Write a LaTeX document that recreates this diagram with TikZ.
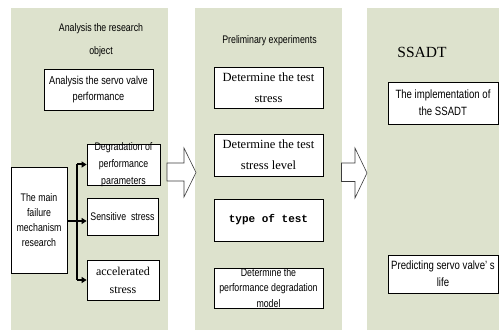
\documentclass[tikz,border=0pt]{standalone}
\usepackage{fontspec}
\setmainfont{Liberation Serif}
\setmonofont{Liberation Mono}
\newfontfamily\narrowsans[FakeStretch=0.8]{Liberation Sans}
\usetikzlibrary{arrows.meta}
\definecolor{panelbg}{RGB}{221,226,205}
\definecolor{arrowline}{RGB}{60,60,60}

\begin{document}
\begin{tikzpicture}[x=1pt,y=-1pt,
    box/.style={draw=black,line width=0.8pt,fill=white,inner sep=0pt,align=center},
    sanstxt/.style={font=\narrowsans\fontsize{11.5}{16}\selectfont,align=center},
    seriftxt/.style={font=\fontsize{12.5}{21}\selectfont},
    conn/.style={line width=2pt},
    tip/.style={-{Triangle[length=5pt,width=6pt]},line width=2pt},
    blockarrow/.style={draw=arrowline,fill=white,line width=0.6pt,line join=miter}]
  \useasboundingbox (0,0) rectangle (499,331);
  % panels
  \fill[panelbg] (11,8) rectangle (168,330);
  \fill[panelbg] (195,8) rectangle (342,330);
  \fill[panelbg] (367,8) rectangle (499,330);
  % block arrows between panels
  \draw[blockarrow] (167,163) -- (184,163) -- (184,148) -- (196,172.5) -- (184,197) -- (184,181) -- (167,181) -- cycle;
  \draw[blockarrow] (341.5,163) -- (355,163) -- (355,148) -- (367,173) -- (355,198) -- (355,181.5) -- (341.5,181.5) -- cycle;

  % first panel
  \node[sanstxt,font=\narrowsans\fontsize{11}{23}\selectfont] (title1) at (101,40.5) {Analysis the research\\object};
  \node[box,sanstxt,minimum width=109,minimum height=41] (servo) at (98.5,89.5) {Analysis the servo valve\\performance};
  \node[box,sanstxt,font=\narrowsans\fontsize{11}{15}\selectfont,minimum width=56,minimum height=106] (mech) at (39,220) {The main\\failure\\mechanism\\research};
  \node[box,minimum width=73,minimum height=41] (degr) at (123.5,164.5) {};
  \node[sanstxt,font=\narrowsans\fontsize{11}{17}\selectfont] (degrtxt) at (degr) {Degradation of\\performance\\parameters};
  \node[box,sanstxt,font=\narrowsans\fontsize{11}{16}\selectfont,minimum width=71,minimum height=37] (sens) at (122.5,216.5) {Sensitive\ \ stress};
  \node[box,font=\fontsize{12}{18}\selectfont,minimum width=72,minimum height=40] (acc) at (123,280) {accelerated\\stress};
  \coordinate (fork) at (77,221);
  \draw[conn,line width=2.5pt] (mech.east |- fork) -- (fork);
  \draw[conn] (fork |- degr.west) -- (fork |- acc.west);
  \draw[tip] (fork |- degr.west) -- (degr.west);
  \draw[tip] (fork) -- (fork -| sens.west);
  \draw[tip] (fork |- acc.west) -- (acc.west);

  % second panel
  \node[sanstxt,font=\narrowsans\fontsize{11}{12}\selectfont] (title2) at (269.5,41) {Preliminary experiments};
  \node[box,seriftxt,minimum width=109,minimum height=41] (stress) at (268.5,87.5) {Determine the test\\stress};
  \node[box,seriftxt,minimum width=109,minimum height=42] (level) at (268.5,155) {Determine the test\\stress level};
  \node[box,font=\ttfamily\bfseries\fontsize{11}{12}\selectfont,minimum width=109,minimum height=42] (type) at (268.5,220) {type of test};
  \node[box,minimum width=109,minimum height=40] (model) at (268.5,288) {};
  \node[sanstxt,font=\narrowsans\fontsize{11}{15.5}\selectfont] (modeltxt) at (model) {Determine the\\performance degradation\\model};

  % third panel
  \node[font=\fontsize{15.5}{18}\selectfont] (title3) at (422,52) {SSADT};
  \node[box,sanstxt,font=\narrowsans\fontsize{12}{17}\selectfont,minimum width=110,minimum height=42] (impl) at (443,103) {The implementation of\\the SSADT};
  \node[box,sanstxt,font=\narrowsans\fontsize{12}{17}\selectfont,minimum width=110,minimum height=38] (life) at (443,274) {Predicting servo valve’\ s\\life};
\end{tikzpicture}
\end{document}
